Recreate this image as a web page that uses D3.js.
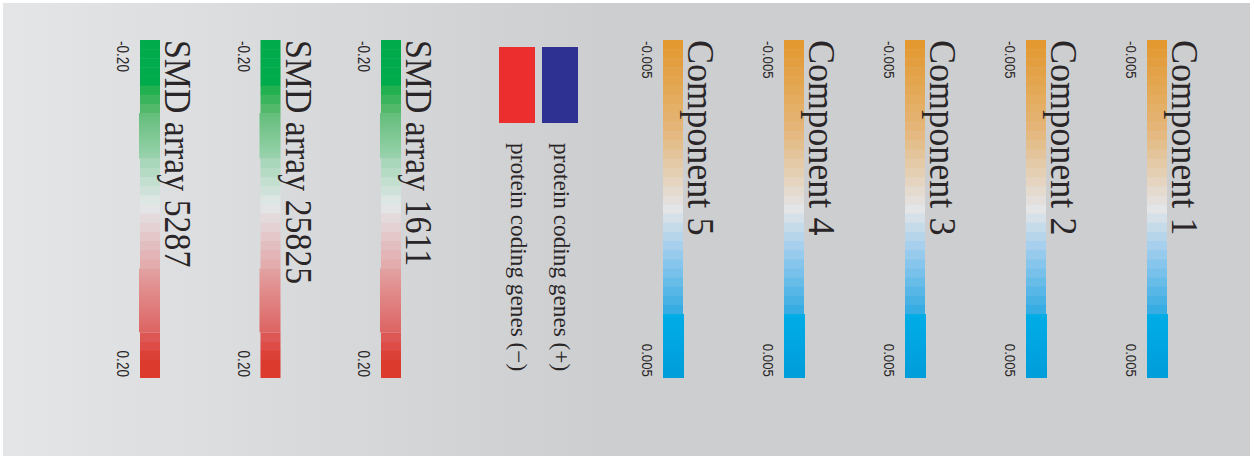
<!DOCTYPE html>
<html>
<head>
<meta charset="utf-8"/>
<title>Colour key</title>
<style>
body { margin: 0; background: #fff; }
svg { display: block; }
.title { font-family: "Liberation Serif", "Times New Roman", serif; fill: #2a2627; }
.tick { font-family: "Liberation Sans", Arial, sans-serif; fill: #2a2627; }
</style>
</head>
<body>
<div id="chart"></div>
<script src="https://cdn.jsdelivr.net/npm/d3@7"></script>
<script>
const componentTitles = ["Component 1", "Component 2", "Component 3", "Component 4", "Component 5"];
const componentDomain = [-0.005, 0.005];
const componentTickLabels = ["-0.005", "0.005"];

const smdTitles = ["SMD array 1611", "SMD array 25825", "SMD array 5287"];
const smdDomain = [-0.20, 0.20];
const smdTickLabels = ["-0.20", "0.20"];

const legendLabels = ["protein coding genes (+)", "protein coding genes (\u2212)"];

const width = 1254, height = 456;
const cellCount = 37;           // the key is drawn as 37 steps
const barTop = 40, barBottom = 378, barW = 20;

// colour ramps for the two kinds of key
const componentColor = d3.scaleLinear()
  .domain([-0.00486, -0.00243, -0.00108, 0, 0.00135, 0.00297, 0.00311, 0.005])
  .range(["#e3992f", "#e4b576", "#e4cfb3", "#e4e5e7", "#97cbee", "#38ade3", "#00ade6", "#009ddb"]);

const smdColor = d3.scaleLinear()
  .domain([-0.2, -0.1514, -0.1405, -0.1189, -0.1135, -0.0595, -0.0541, -0.0108, 0,
           0.0108, 0.0649, 0.0703, 0.1459, 0.1514, 0.173, 0.1838, 0.2])
  .range(["#00ab4c", "#00ab4c", "#22b150", "#52b96a", "#63bd7a", "#9ad2ae", "#a8d7bb", "#dce6e3", "#e3e4e6",
          "#e4dadc", "#e3acad", "#e2a2a2", "#dd6462", "#dd5754", "#dc4137", "#dc3a2c", "#dc3a2c"]);

const svg = d3.select("#chart").append("svg")
  .attr("width", width)
  .attr("height", height);

const defs = svg.append("defs");
const bg = defs.append("linearGradient").attr("id", "bg")
  .attr("x1", 0).attr("x2", 1).attr("y1", 0).attr("y2", 0);
bg.append("stop").attr("offset", 0).attr("stop-color", "#e4e5e7");
bg.append("stop").attr("offset", 0.48).attr("stop-color", "#cdced0");
bg.append("stop").attr("offset", 1).attr("stop-color", "#cdced0");

svg.append("rect")
  .attr("x", 3).attr("y", 3)
  .attr("width", 1247).attr("height", 453)
  .attr("fill", "url(#bg)");

const yCell = d3.scaleLinear().domain([0, cellCount]).range([barTop, barBottom]);

let gid = 0;
function drawKey(x, domain, color, smooth, widen, ticks, title, tickGap, tickSize, tickSx, titleSx) {
  const val = d3.scaleLinear().domain([0, cellCount]).range(domain);
  const g = svg.append("g");
  const inSmooth = i => smooth.some(s => i >= s[0] && i < s[1]);

  g.selectAll("rect.cell")
    .data(d3.range(cellCount).filter(i => !inSmooth(i)))
    .join("rect")
    .attr("class", "cell")
    .attr("x", x)
    .attr("y", i => yCell(i))
    .attr("width", barW)
    .attr("height", i => yCell(i + 1) - yCell(i) + (i < cellCount - 1 ? 0.4 : 0))
    .attr("fill", i => color(val(i + 0.5)));

  smooth.forEach(s => {
    const id = "sg" + (gid++);
    const lg = defs.append("linearGradient").attr("id", id)
      .attr("x1", 0).attr("x2", 0).attr("y1", 0).attr("y2", 1);
    d3.range(0, 1.0001, 0.1).forEach(t => {
      lg.append("stop").attr("offset", t)
        .attr("stop-color", color(val(s[0] + t * (s[1] - s[0]))));
    });
    g.append("rect")
      .attr("x", x + Math.min(widen, 0))
      .attr("y", yCell(s[0]))
      .attr("width", barW + Math.abs(widen))
      .attr("height", yCell(s[1]) - yCell(s[0]))
      .attr("fill", "url(#" + id + ")");
  });

  // tick labels at both ends
  g.append("text").attr("class", "tick")
    .attr("transform", `translate(${x - tickGap},${barTop + 1}) rotate(90) scale(${tickSx},1)`)
    .style("font-size", tickSize + "px")
    .text(ticks[0]);
  g.append("text").attr("class", "tick")
    .attr("transform", `translate(${x - tickGap},${barBottom - 1}) rotate(90) scale(${tickSx},1)`)
    .attr("text-anchor", "end")
    .style("font-size", tickSize + "px")
    .text(ticks[1]);

  g.append("text").attr("class", "title")
    .attr("transform", `translate(${x + barW + 5},${barTop}) rotate(90) scale(${titleSx},1)`)
    .style("font-size", "38px")
    .text(title);
}

const compX = d3.scalePoint().domain(componentTitles).range([1147, 663]);
componentTitles.forEach(t => {
  drawKey(compX(t), componentDomain, componentColor, [[30, 37]], 1,
    componentTickLabels, t, 21, 14, 0.95, 0.95);
});

const smdX = d3.scalePoint().domain(smdTitles).range([381, 140]);
smdTitles.forEach(t => {
  drawKey(smdX(t), smdDomain, smdColor, [[8, 13], [25, 32]], -1,
    smdTickLabels, t, 23, 16, 0.85, 0.89);
});

// strand legend
const legendX = d3.scalePoint().domain(legendLabels).range([542, 499]);
const legendFill = d3.scaleOrdinal().domain(legendLabels).range(["#2e3192", "#ed2e2f"]);

svg.selectAll("rect.legend")
  .data(legendLabels)
  .join("rect")
  .attr("class", "legend")
  .attr("x", d => legendX(d))
  .attr("y", 47)
  .attr("width", 36)
  .attr("height", 76)
  .attr("fill", d => legendFill(d));

svg.selectAll("text.legend")
  .data(legendLabels)
  .join("text")
  .attr("class", "title legend")
  .attr("transform", d => `translate(${legendX(d) + 12},143) rotate(90) scale(0.97,1)`)
  .style("font-size", "24px")
  .text(d => d);
</script>
</body>
</html>
